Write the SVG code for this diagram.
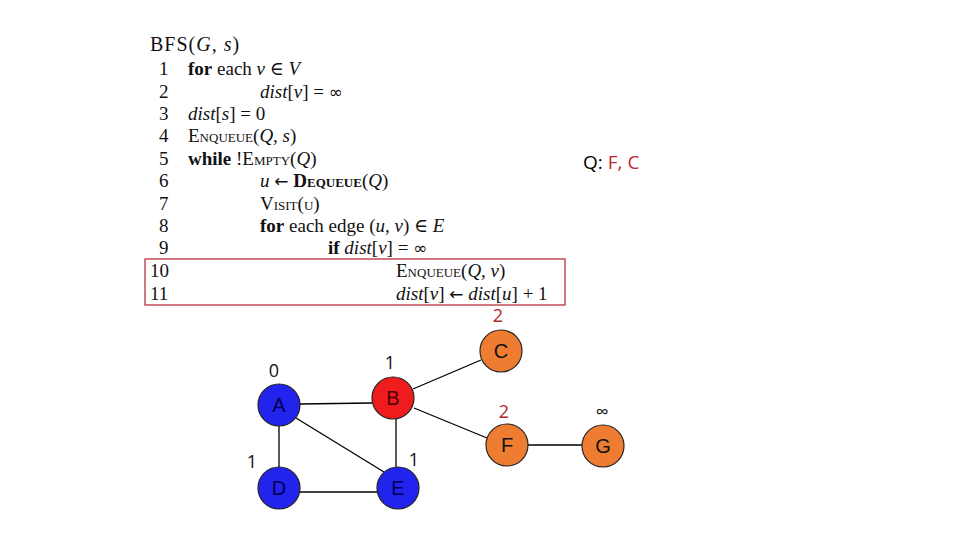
<svg xmlns="http://www.w3.org/2000/svg" width="960" height="540" viewBox="0 0 960 540">
<style>
.code{font-family:"Liberation Serif","DejaVu Serif",serif;font-size:19px;fill:#111}
.it{font-style:italic}
.b{font-weight:bold}
.sc{font-variant:small-caps}
.sym{font-family:"DejaVu Sans",sans-serif;font-size:17px}
.lbl{font-family:"Open Sans","Liberation Sans",sans-serif;font-size:18px;text-anchor:middle}
.nl{font-family:"Liberation Sans",sans-serif;font-size:20px;text-anchor:middle}
.edge{stroke:#000;stroke-width:1.3;fill:none}
.node{stroke:#222;stroke-width:1.2}
</style>
<rect width="960" height="540" fill="#fff"/>
<g id="code" class="code">
<text x="150" y="51" font-size="20" letter-spacing="1">BFS(<tspan class="it">G, s</tspan>)</text>
<text x="159" y="75">1</text><text x="188" y="75"><tspan class="b">for</tspan> each <tspan class="it">v</tspan> ∈ <tspan class="it">V</tspan></text>
<text x="159" y="98">2</text><text x="260" y="98"><tspan class="it">dist</tspan>[<tspan class="it">v</tspan>] = <tspan class="sym">∞</tspan></text>
<text x="159" y="120">3</text><text x="188" y="120"><tspan class="it">dist</tspan>[<tspan class="it">s</tspan>] = 0</text>
<text x="159" y="142">4</text><text x="188" y="142"><tspan class="sc">Enqueue</tspan>(<tspan class="it">Q, s</tspan>)</text>
<text x="159" y="165">5</text><text x="188" y="165"><tspan class="b">while</tspan> !<tspan class="sc">Empty</tspan>(<tspan class="it">Q</tspan>)</text>
<text x="159" y="187">6</text><text x="260" y="187"><tspan class="it">u</tspan> <tspan class="sym">←</tspan> <tspan class="sc b">Dequeue</tspan>(<tspan class="it">Q</tspan>)</text>
<text x="159" y="210">7</text><text x="260" y="210"><tspan class="sc">Visit(u)</tspan></text>
<text x="159" y="232">8</text><text x="260" y="232"><tspan class="b">for</tspan> each edge (<tspan class="it">u, v</tspan>) ∈ <tspan class="it">E</tspan></text>
<text x="159" y="254">9</text><text x="328" y="254"><tspan class="b">if</tspan> <tspan class="it">dist</tspan>[<tspan class="it">v</tspan>] = <tspan class="sym">∞</tspan></text>
<text x="150" y="277">10</text><text x="396" y="277"><tspan class="sc">Enqueue</tspan>(<tspan class="it">Q, v</tspan>)</text>
<text x="150" y="300">11</text><text x="396" y="300"><tspan class="it">dist</tspan>[<tspan class="it">v</tspan>] <tspan class="sym">←</tspan> <tspan class="it">dist</tspan>[<tspan class="it">u</tspan>] + 1</text>
</g>
<rect id="highlight" x="145" y="259" width="420" height="46" fill="none" stroke="#b8323c" stroke-width="1.3"/>
<g id="queue"><text x="583" y="169" font-family="Open Sans, Liberation Sans, sans-serif" font-size="19"><tspan fill="#000">Q: </tspan><tspan fill="#c0272d">F, C</tspan></text></g>
<g id="connectors" class="edge">
<line x1="300" y1="404" x2="372" y2="403"/>
<line x1="413" y1="389" x2="481" y2="360"/>
<line x1="414" y1="408" x2="487" y2="438"/>
<line x1="279" y1="426" x2="279" y2="467"/>
<line x1="296" y1="418" x2="384" y2="472"/>
<line x1="396" y1="419" x2="396" y2="467"/>
<line x1="300" y1="492" x2="378" y2="492"/>
<line x1="528" y1="445" x2="582" y2="445"/>
</g>
<g id="A"><circle class="node" cx="279" cy="405" r="21" fill="#2323ee"/><text class="nl" x="279" y="412" fill="#000050">A</text><text class="lbl" x="274" y="377" fill="#111">0</text></g>
<g id="B"><circle class="node" cx="393" cy="398" r="21" fill="#ee1c1c"/><text class="nl" x="393" y="405" fill="#500000">B</text><text class="lbl" x="390" y="369" fill="#111">1</text></g>
<g id="C"><circle class="node" cx="501" cy="351" r="21" fill="#ee7d31"/><text class="nl" x="501" y="358" fill="#111">C</text><text class="lbl" x="498" y="322" fill="#b0272d">2</text></g>
<g id="D"><circle class="node" cx="279" cy="488" r="21" fill="#2323ee"/><text class="nl" x="279" y="495" fill="#000050">D</text><text class="lbl" x="252" y="468" fill="#111">1</text></g>
<g id="E"><circle class="node" cx="398" cy="488" r="21" fill="#2323ee"/><text class="nl" x="398" y="495" fill="#000050">E</text><text class="lbl" x="414" y="466" fill="#111">1</text></g>
<g id="F"><circle class="node" cx="507" cy="445" r="21" fill="#ee7d31"/><text class="nl" x="507" y="452" fill="#111">F</text><text class="lbl" x="504" y="418" fill="#b0272d">2</text></g>
<g id="G"><circle class="node" cx="603" cy="446" r="21" fill="#ee7d31"/><text class="nl" x="603" y="453" fill="#111">G</text><text class="lbl" x="602" y="418" fill="#111">∞</text></g>
</svg>
